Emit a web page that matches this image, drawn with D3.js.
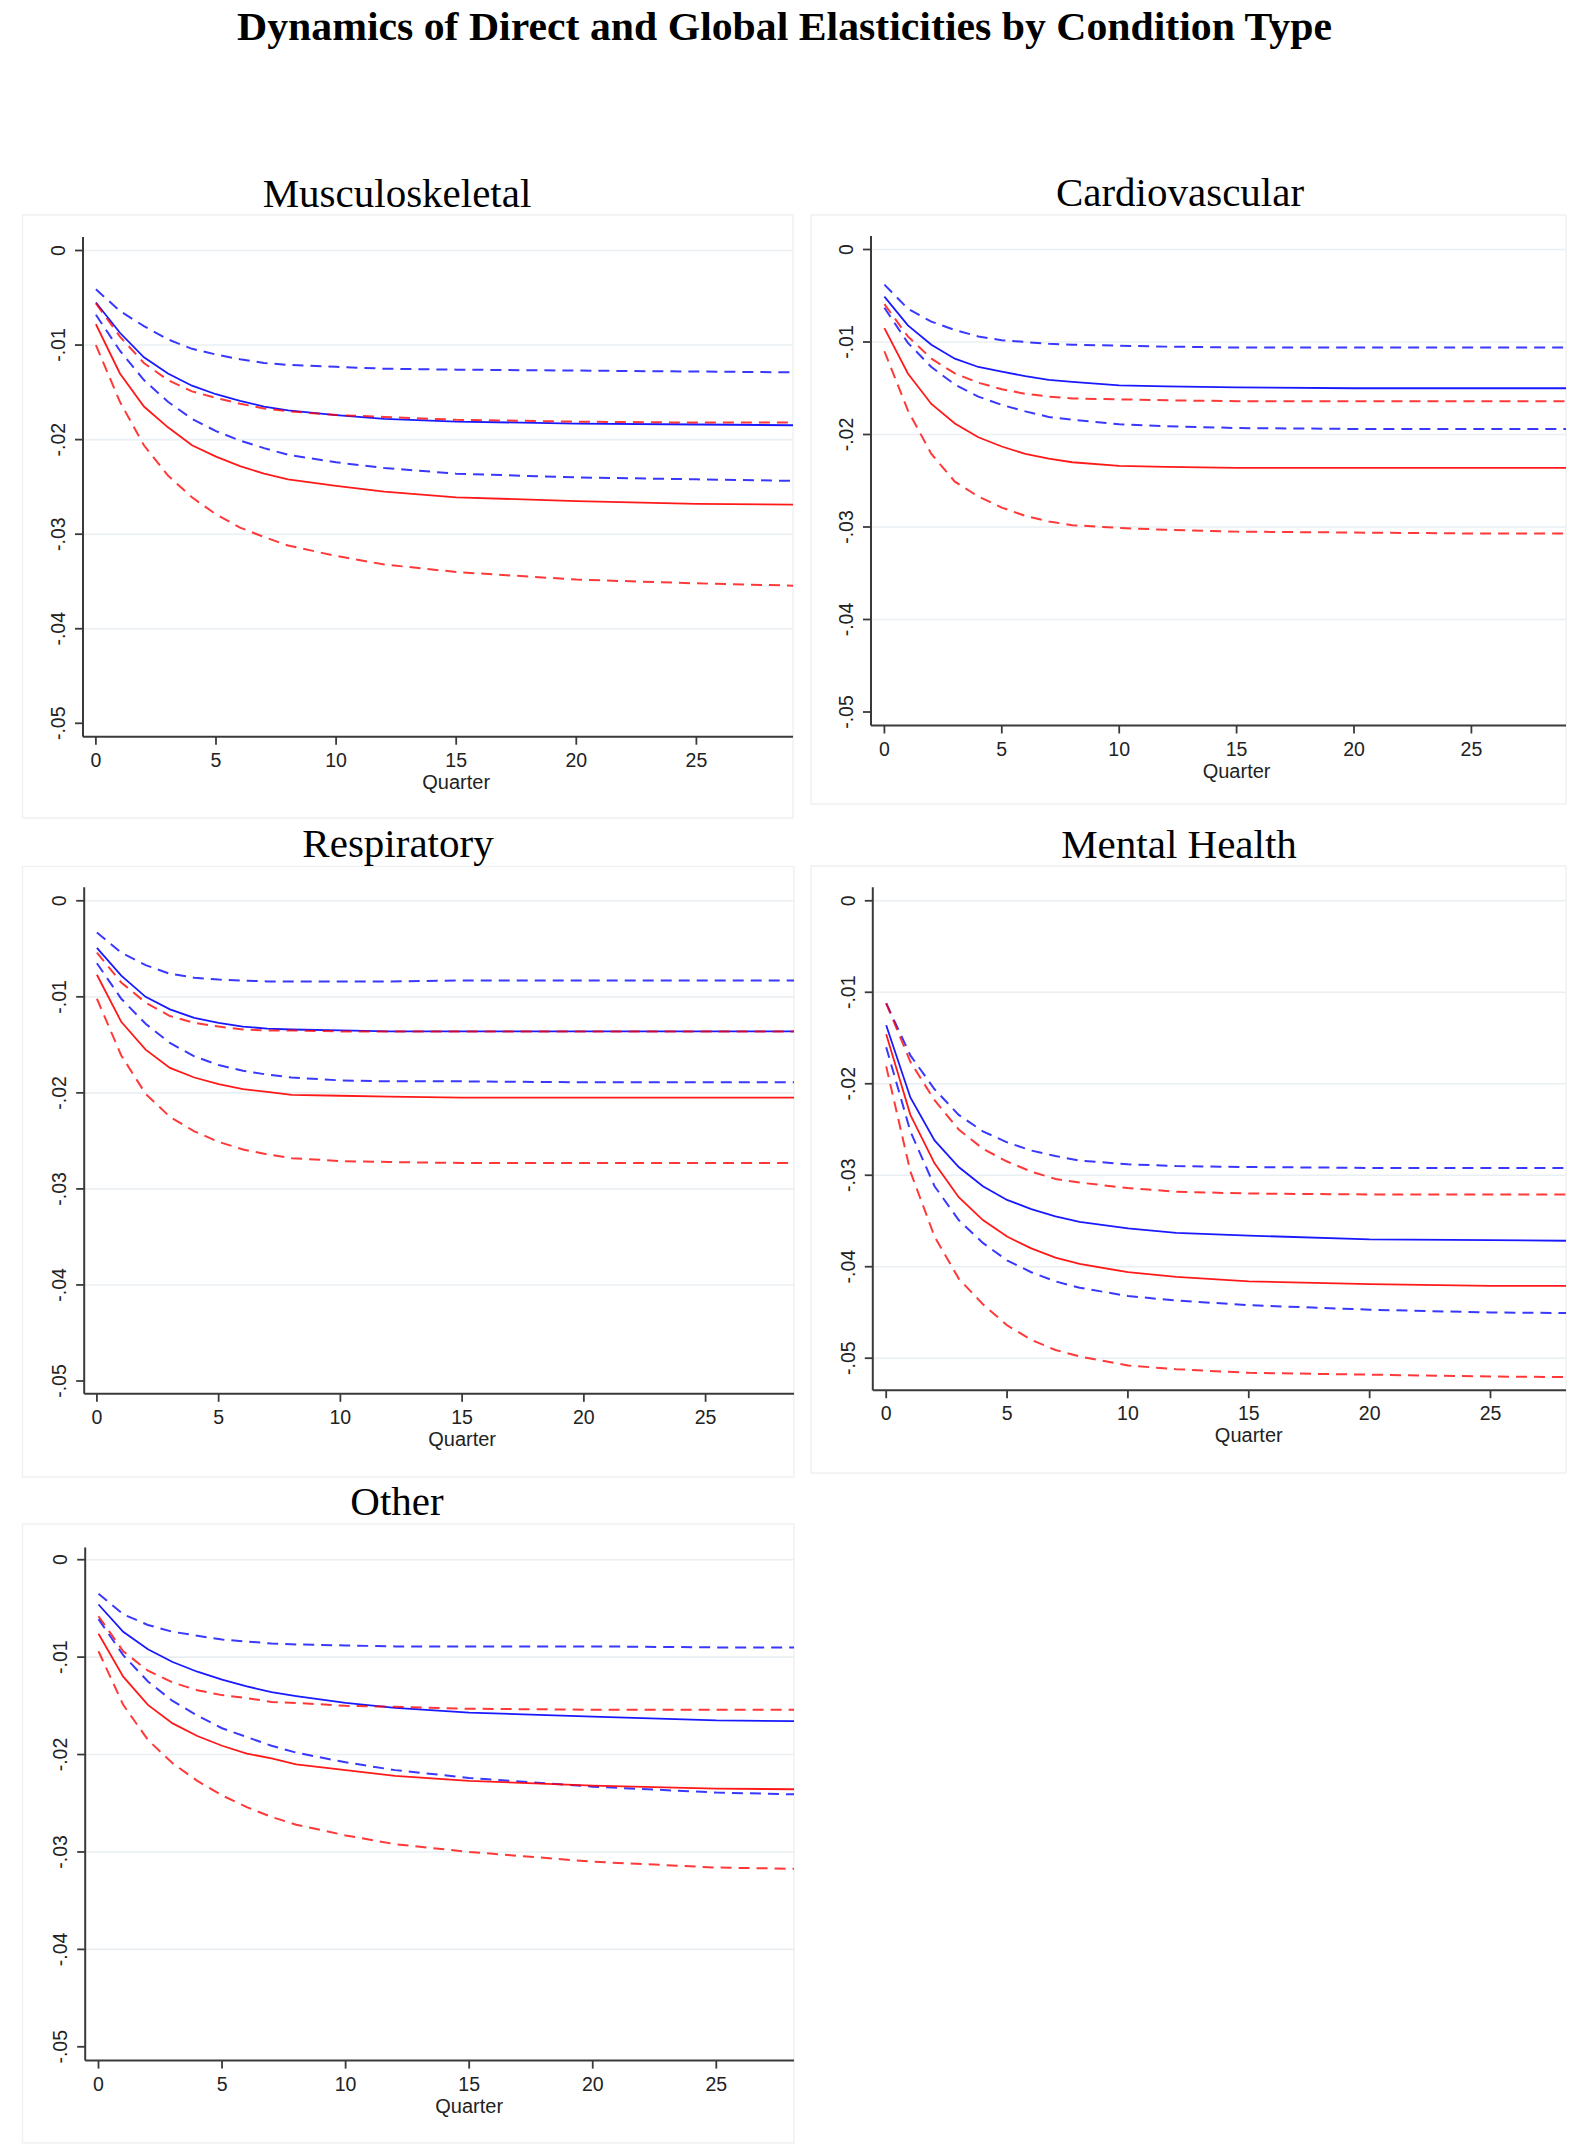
<!DOCTYPE html>
<html>
<head>
<meta charset="utf-8">
<script src="https://cdnjs.cloudflare.com/ajax/libs/d3/7.8.5/d3.min.js"></script>
<style>
  body { margin: 0; background: white; }
</style>
</head>
<body>
<div id="chart"></div>
<script>
// Data
const mainTitle   = "Dynamics of Direct and Global Elasticities by Condition Type";
const panelTitles = ["Musculoskeletal", "Cardiovascular", "Respiratory", "Mental Health", "Other"];
const quarters    = [0, 1, 2, 3, 4, 5, 6, 7, 8, 10, 12, 15, 20, 25, 30];
const yTicks      = [0, -0.01, -0.02, -0.03, -0.04, -0.05];
const yTickLabels = ["0", "-.01", "-.02", "-.03", "-.04", "-.05"];
const xTicks      = [0, 5, 10, 15, 20, 25];
const xTitle      = "Quarter";

// Musculoskeletal
const muscBlueHi  = [-.0041,-.0064,-.0080,-.0094,-.0104,-.0110,-.0115,-.0119,-.0121,-.0123,-.0125,-.0126,-.0127,-.0128,-.0129];
const muscBlue    = [-.0055,-.0087,-.0113,-.0130,-.0143,-.0152,-.0159,-.0165,-.0169,-.0174,-.0178,-.0181,-.0183,-.0184,-.0185];
const muscBlueLo  = [-.0068,-.0106,-.0137,-.0160,-.0178,-.0191,-.0201,-.0209,-.0216,-.0224,-.0230,-.0236,-.0240,-.0242,-.0244];
const muscRedHi   = [-.0056,-.0091,-.0119,-.0137,-.0149,-.0156,-.0162,-.0167,-.0170,-.0174,-.0176,-.0179,-.0181,-.0182,-.0182];
const muscRed     = [-.0078,-.0130,-.0165,-.0187,-.0206,-.0218,-.0228,-.0236,-.0242,-.0249,-.0255,-.0261,-.0265,-.0268,-.0269];
const muscRedLo   = [-.0100,-.0160,-.0206,-.0238,-.0261,-.0279,-.0293,-.0303,-.0312,-.0323,-.0332,-.0340,-.0348,-.0352,-.0355];

// Cardiovascular
const cardBlueHi  = [-.0038,-.0064,-.0078,-.0087,-.0094,-.0098,-.0100,-.0102,-.0103,-.0104,-.0105,-.0106,-.0106,-.0106,-.0106];
const cardBlue    = [-.0051,-.0082,-.0103,-.0118,-.0127,-.0132,-.0137,-.0141,-.0143,-.0147,-.0148,-.0149,-.0150,-.0150,-.0150];
const cardBlueLo  = [-.0063,-.0101,-.0127,-.0146,-.0159,-.0168,-.0175,-.0181,-.0184,-.0189,-.0191,-.0193,-.0194,-.0194,-.0194];
const cardRedHi   = [-.0059,-.0094,-.0118,-.0134,-.0144,-.0151,-.0156,-.0159,-.0161,-.0162,-.0163,-.0164,-.0164,-.0164,-.0164];
const cardRed     = [-.0085,-.0134,-.0167,-.0188,-.0203,-.0213,-.0221,-.0226,-.0230,-.0234,-.0235,-.0236,-.0236,-.0236,-.0236];
const cardRedLo   = [-.0110,-.0174,-.0221,-.0251,-.0267,-.0279,-.0288,-.0294,-.0298,-.0301,-.0303,-.0305,-.0306,-.0307,-.0307];

// Respiratory
const respBlueHi  = [-.0033,-.0054,-.0067,-.0076,-.0080,-.0082,-.0083,-.0084,-.0084,-.0084,-.0084,-.0083,-.0083,-.0083,-.0083];
const respBlue    = [-.0049,-.0078,-.0100,-.0113,-.0122,-.0127,-.0131,-.0133,-.0134,-.0135,-.0136,-.0136,-.0136,-.0136,-.0136];
const respBlueLo  = [-.0065,-.0102,-.0128,-.0148,-.0162,-.0171,-.0177,-.0181,-.0184,-.0187,-.0188,-.0188,-.0189,-.0189,-.0189];
const respRedHi   = [-.0054,-.0085,-.0106,-.0120,-.0127,-.0131,-.0134,-.0135,-.0135,-.0136,-.0136,-.0136,-.0136,-.0136,-.0136];
const respRed     = [-.0077,-.0126,-.0155,-.0174,-.0184,-.0191,-.0196,-.0199,-.0202,-.0203,-.0204,-.0205,-.0205,-.0205,-.0205];
const respRedLo   = [-.0102,-.0161,-.0201,-.0225,-.0240,-.0251,-.0259,-.0264,-.0268,-.0271,-.0272,-.0273,-.0273,-.0273,-.0273];

// Mental Health
const mentBlueHi  = [-.0112,-.0169,-.0206,-.0234,-.0252,-.0264,-.0273,-.0279,-.0284,-.0288,-.0290,-.0291,-.0292,-.0292,-.0292];
const mentBlue    = [-.0136,-.0215,-.0262,-.0291,-.0312,-.0327,-.0337,-.0345,-.0351,-.0358,-.0363,-.0366,-.0370,-.0371,-.0372];
const mentBlueLo  = [-.0160,-.0252,-.0312,-.0349,-.0374,-.0393,-.0406,-.0416,-.0423,-.0432,-.0437,-.0442,-.0447,-.0450,-.0451];
const mentRedHi   = [-.0112,-.0176,-.0218,-.0250,-.0271,-.0285,-.0296,-.0304,-.0308,-.0314,-.0318,-.0320,-.0321,-.0321,-.0321];
const mentRed     = [-.0146,-.0234,-.0287,-.0324,-.0349,-.0367,-.0380,-.0390,-.0397,-.0406,-.0411,-.0416,-.0419,-.0421,-.0421];
const mentRedLo   = [-.0181,-.0296,-.0367,-.0413,-.0441,-.0464,-.0480,-.0491,-.0498,-.0508,-.0512,-.0516,-.0518,-.0520,-.0521];

// Other
const otheBlueHi  = [-.0035,-.0056,-.0067,-.0074,-.0078,-.0082,-.0084,-.0086,-.0087,-.0088,-.0089,-.0089,-.0089,-.0090,-.0090];
const otheBlue    = [-.0046,-.0074,-.0092,-.0105,-.0115,-.0123,-.0130,-.0136,-.0140,-.0147,-.0152,-.0157,-.0161,-.0165,-.0166];
const otheBlueLo  = [-.0061,-.0098,-.0125,-.0145,-.0160,-.0173,-.0182,-.0191,-.0198,-.0208,-.0216,-.0224,-.0233,-.0239,-.0242];
const otheRedHi   = [-.0058,-.0094,-.0114,-.0126,-.0134,-.0139,-.0142,-.0146,-.0147,-.0150,-.0151,-.0153,-.0154,-.0154,-.0154];
const otheRed     = [-.0076,-.0120,-.0149,-.0168,-.0181,-.0191,-.0199,-.0204,-.0210,-.0216,-.0222,-.0227,-.0232,-.0235,-.0236];
const otheRedLo   = [-.0094,-.0149,-.0185,-.0209,-.0227,-.0242,-.0254,-.0264,-.0272,-.0283,-.0292,-.0300,-.0310,-.0316,-.0318];

const panelSeries = [
  [muscBlueHi, muscBlue, muscBlueLo, muscRedHi, muscRed, muscRedLo],
  [cardBlueHi, cardBlue, cardBlueLo, cardRedHi, cardRed, cardRedLo],
  [respBlueHi, respBlue, respBlueLo, respRedHi, respRed, respRedLo],
  [mentBlueHi, mentBlue, mentBlueLo, mentRedHi, mentRed, mentRedLo],
  [otheBlueHi, otheBlue, otheBlueLo, otheRedHi, otheRed, otheRedLo]
];

// line styles, in the same order as the series above
const seriesStyle = [
  { color: "#0000ff", dash: "11,7" },
  { color: "#0000ff", dash: null },
  { color: "#0000ff", dash: "11,7" },
  { color: "#ff0000", dash: "11,7" },
  { color: "#ff0000", dash: null },
  { color: "#ff0000", dash: "11,7" }
];

// Layout of each small graph (pixels)
const layout = [
  { box: [22.5, 215, 793, 818],    axisX: 83,    top: 237,    bottom: 736.7,  y0: 250.5,  y5: 723.3,  x0: 95.9,  x25: 696.4,  right: 793,  titleX: 397,  titleY: 207 },
  { box: [811, 215, 1566, 804],    axisX: 871,   top: 236,    bottom: 725.5,  y0: 249.5,  y5: 712,    x0: 884.4, x25: 1471.4, right: 1566, titleX: 1180, titleY: 206 },
  { box: [22.5, 866.5, 794, 1477], axisX: 84.2,  top: 887.3,  bottom: 1393.8, y0: 900.8,  y5: 1381,   x0: 96.9,  x25: 705.6,  right: 794,  titleX: 398,  titleY: 857 },
  { box: [811, 866, 1566, 1473],   axisX: 872.8, top: 887.3,  bottom: 1390.2, y0: 900.8,  y5: 1358.2, x0: 886.2, x25: 1490.5, right: 1566, titleX: 1179, titleY: 858 },
  { box: [22.5, 1524, 794, 2143],  axisX: 85.2,  top: 1547.6, bottom: 2060.6, y0: 1559.7, y5: 2046.8, x0: 98.5,  x25: 716.3,  right: 794,  titleX: 397,  titleY: 1515 }
];

const config = {
  width      : 1588,
  height     : 2146,
  serif      : "'Liberation Serif', 'Times New Roman', serif",
  sans       : "'Liberation Sans', Arial, Helvetica, sans-serif",
  tickSize   : 8,
  tickFont   : 19.5,
  gridColor  : "#e9eff2",
  axisColor  : "#3a3a3a",
  boxColor   : "#f1f1f1"
};

const svg = d3.select("#chart")
  .append("svg")
    .attr("width", config.width)
    .attr("height", config.height)
    .style("background", "white");

// Overall title
svg.append("text")
    .attr("x", 784.5)
    .attr("y", 40)
    .attr("text-anchor", "middle")
    .attr("textLength", 1095)
    .attr("lengthAdjust", "spacingAndGlyphs")
    .style("font-family", config.serif)
    .style("font-weight", "bold")
    .style("font-size", "39px")
    .text(mainTitle);

layout.forEach(function (L, i) {
  const g = svg.append("g").attr("class", "panel");

  const x = d3.scaleLinear().domain([0, 25]).range([L.x0, L.x25]);
  const y = d3.scaleLinear().domain([0, -0.05]).range([L.y0, L.y5]);

  // outer region frame
  g.append("rect")
      .attr("x", L.box[0])
      .attr("y", L.box[1])
      .attr("width", L.box[2] - L.box[0])
      .attr("height", L.box[3] - L.box[1])
      .attr("fill", "white")
      .attr("stroke", config.boxColor)
      .attr("stroke-width", 1.5);

  // panel title
  g.append("text")
      .attr("x", L.titleX)
      .attr("y", L.titleY)
      .attr("text-anchor", "middle")
      .style("font-family", config.serif)
      .style("font-size", "41px")
      .text(panelTitles[i]);

  // grid lines (skip the ones sitting on the x axis)
  g.selectAll(".grid")
    .data(yTicks.filter(function (t) { return L.bottom - y(t) > 20; }))
    .enter()
      .append("line")
        .attr("x1", L.axisX)
        .attr("x2", L.right)
        .attr("y1", function (d) { return y(d); })
        .attr("y2", function (d) { return y(d); })
        .attr("stroke", config.gridColor)
        .attr("stroke-width", 1.6);

  // clip the series to the visible plot area
  const clipId = "clip" + i;
  g.append("clipPath")
      .attr("id", clipId)
    .append("rect")
      .attr("x", L.axisX)
      .attr("y", L.top)
      .attr("width", L.right - L.axisX)
      .attr("height", L.bottom - L.top);

  const line = d3.line()
    .x(function (d) { return x(d[0]); })
    .y(function (d) { return y(d[1]); });

  g.append("g")
      .attr("clip-path", "url(#" + clipId + ")")
    .selectAll(".series")
    .data(panelSeries[i])
    .enter()
      .append("path")
        .attr("d", function (vals) { return line(quarters.map(function (q, k) { return [q, vals[k]]; })); })
        .attr("fill", "none")
        .attr("stroke", function (d, k) { return seriesStyle[k].color; })
        .attr("stroke-width", function (d, k) { return seriesStyle[k].dash ? 2 : 1.8; })
        .attr("stroke-opacity", function (d, k) { return seriesStyle[k].dash ? 0.78 : 0.9; })
        .attr("stroke-dasharray", function (d, k) { return seriesStyle[k].dash; });

  // y axis
  g.append("line")
      .attr("x1", L.axisX).attr("x2", L.axisX)
      .attr("y1", L.top).attr("y2", L.bottom)
      .attr("stroke", config.axisColor)
      .attr("stroke-width", 2);

  g.selectAll(".ytick")
    .data(yTicks)
    .enter()
      .append("line")
        .attr("x1", L.axisX - config.tickSize)
        .attr("x2", L.axisX)
        .attr("y1", function (d) { return y(d); })
        .attr("y2", function (d) { return y(d); })
        .attr("stroke", config.axisColor)
        .attr("stroke-width", 1.8);

  g.selectAll(".ylab")
    .data(yTicks)
    .enter()
      .append("text")
        .attr("transform", function (d) { return "translate(" + (L.axisX - 18) + "," + y(d) + ") rotate(-90)"; })
        .attr("text-anchor", "middle")
        .attr("fill", "#222")
        .style("font-family", config.sans)
        .style("font-size", config.tickFont + "px")
        .text(function (d, k) { return yTickLabels[k]; });

  // x axis
  g.append("line")
      .attr("x1", L.axisX).attr("x2", L.right)
      .attr("y1", L.bottom).attr("y2", L.bottom)
      .attr("stroke", config.axisColor)
      .attr("stroke-width", 2);

  g.selectAll(".xtick")
    .data(xTicks)
    .enter()
      .append("line")
        .attr("x1", function (d) { return x(d); })
        .attr("x2", function (d) { return x(d); })
        .attr("y1", L.bottom)
        .attr("y2", L.bottom + config.tickSize)
        .attr("stroke", config.axisColor)
        .attr("stroke-width", 1.8);

  g.selectAll(".xlab")
    .data(xTicks)
    .enter()
      .append("text")
        .attr("x", function (d) { return x(d); })
        .attr("y", L.bottom + 30)
        .attr("text-anchor", "middle")
        .attr("fill", "#222")
        .style("font-family", config.sans)
        .style("font-size", config.tickFont + "px")
        .text(function (d) { return d; });

  g.append("text")
      .attr("x", x(15))
      .attr("y", L.bottom + 52)
      .attr("text-anchor", "middle")
      .attr("fill", "#222")
      .style("font-family", config.sans)
      .style("font-size", "20px")
      .text(xTitle);
});
</script>
</body>
</html>
